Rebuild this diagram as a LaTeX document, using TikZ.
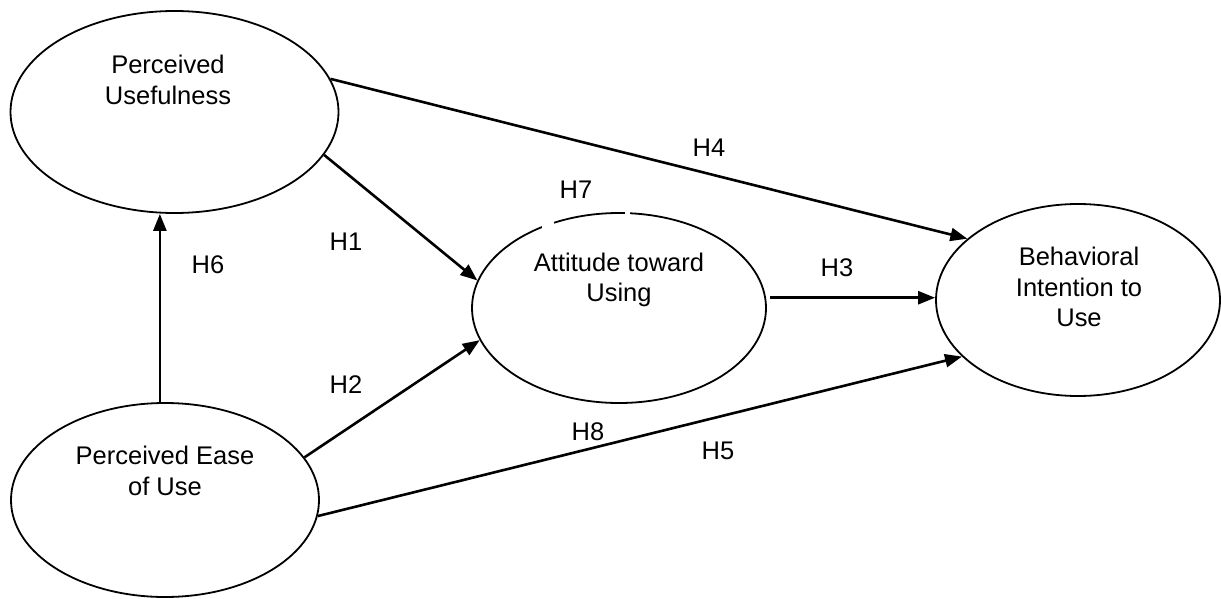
\documentclass[tikz,border=0pt]{standalone}
\usepackage{fontspec}
\setmainfont{Liberation Sans}
\usetikzlibrary{shapes.geometric,arrows.meta,calc}
\begin{document}
\begin{tikzpicture}[x=1pt,y=-1pt,
  oval/.style={draw,ellipse,line width=1.8pt,inner sep=0pt},
  txt/.style={align=center,inner sep=0pt,font=\fontsize{25.5}{30.5}\selectfont},
  hyp/.style={inner sep=0pt,font=\fontsize{25.5}{30.5}\selectfont},
  arr/.style={line width=2.6pt,-{Triangle[length=17pt,width=13pt]}},
  gap/.style={fill=white}]
\useasboundingbox (0,0) rectangle (1221,599);
% ellipses
\node[oval,minimum width=328pt,minimum height=202pt] (pu) at (174.5,112) {};
\node[oval,minimum width=308pt,minimum height=194pt] (peu) at (165,500) {};
\node[oval,minimum width=294pt,minimum height=190pt] (at) at (619,308) {};
\node[oval,minimum width=284pt,minimum height=192pt] (bi) at (1078,300) {};
% small breaks in the top of the attitude ellipse
\fill[gap] (542,221) rectangle (554,230);
\fill[gap] (625,209) rectangle (630,217);
% texts
\node[txt] (tpu) at (168,80) {Perceived\\Usefulness};
\node[txt] (tpeu) at (165,471) {Perceived Ease\\of Use};
\node[txt] (tat) at (619,280) {Attitude toward\\Using};
\node[txt] (tbi) at (1079,287) {Behavioral\\Intention to\\Use};
% connectors
\draw[arr] (pu.12.6) -- (bi.151.5);
\draw[arr] (pu.-16.8) -- (at.169.1);
\draw[arr] (peu.17.2) -- (at.-167);
\draw[arr] (peu.-6.7) -- (bi.206.6);
\coordinate (h3s) at ($(at.4.2)+(4,0)$);
\draw[arr] (h3s) -- (h3s -| bi.west);
\draw[arr] (peu.93) -- (peu.93 |- pu.south);
% hypothesis labels
\node[hyp] (h4) at (709,148) {H4};
\node[hyp] (h7) at (576,190) {H7};
\node[hyp] (h1) at (346,242) {H1};
\node[hyp] (h6) at (208,265) {H6};
\node[hyp] (h3) at (837,268) {H3};
\node[hyp] (h2) at (346,385) {H2};
\node[hyp] (h8) at (588,432) {H8};
\node[hyp] (h5) at (718,451) {H5};
\end{tikzpicture}
\end{document}
